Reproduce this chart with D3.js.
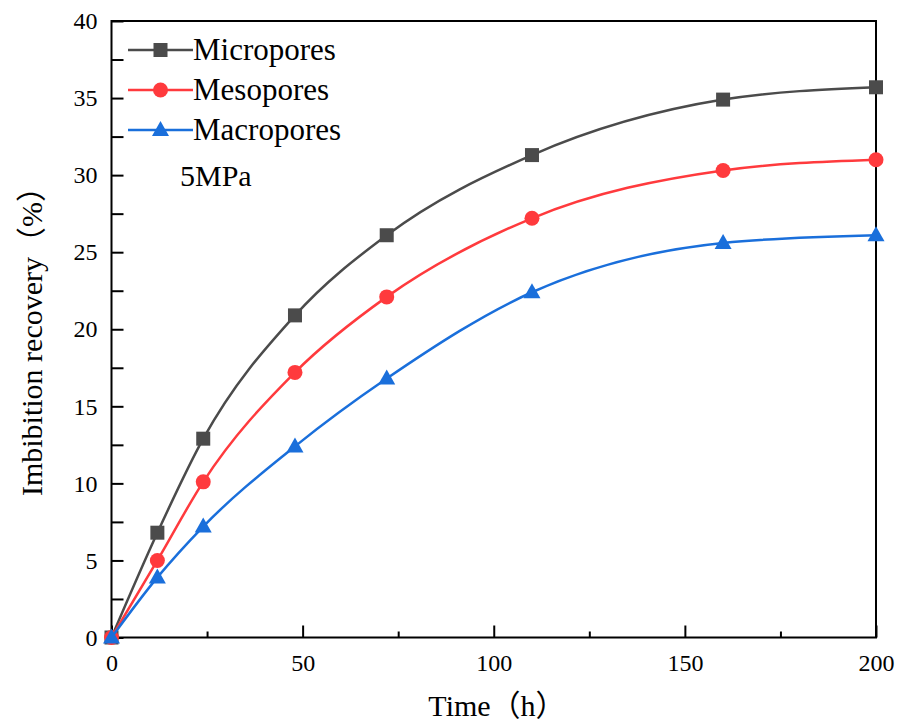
<!DOCTYPE html>
<html>
<head>
<meta charset="utf-8">
<script src="https://cdn.jsdelivr.net/npm/d3@7"></script>
<style>
  body { margin: 0; background: #fff; }
</style>
</head>
<body>
<svg id="chart" width="902" height="725"></svg>
<script>
const hours      = [0, 12, 24, 48, 72, 110, 160, 200]
const micropores = [0, 6.8, 12.9, 20.9, 26.1, 31.3, 34.9, 35.7]
const mesopores  = [0, 5.0, 10.1, 17.2, 22.1, 27.2, 30.3, 31.0]
const macropores = [0, 3.9, 7.2, 12.4, 16.8, 22.4, 25.6, 26.1]
const seriesNames = ['Micropores', 'Mesopores', 'Macropores']
const xTicks = [0, 50, 100, 150, 200]
const yTicks = [0, 5, 10, 15, 20, 25, 30, 35, 40]

const plotLeft = 111.5, plotRight = 876, plotTop = 21, plotBottom = 637.5
const serif = "'Liberation Serif', 'Noto Sans CJK SC', serif"

const svg = d3.select('#chart')

const x = d3.scaleLinear().domain([0, 200]).range([plotLeft, plotRight])
const y = d3.scaleLinear().domain([0, 40]).range([plotBottom, plotTop])

const series = [
  { name: seriesNames[0], values: micropores, color: '#4b4b4b', marker: 'square' },
  { name: seriesNames[1], values: mesopores,  color: '#ff3a3d', marker: 'circle' },
  { name: seriesNames[2], values: macropores, color: '#1a6fdb', marker: 'triangle' }
]

// frame
svg.append('rect')
  .attr('x', plotLeft).attr('y', plotTop)
  .attr('width', plotRight - plotLeft).attr('height', plotBottom - plotTop)
  .attr('fill', 'none').attr('stroke', '#000').attr('stroke-width', 2)

// x axis, ticks inside
const xAxis = svg.append('g').attr('transform', `translate(0,${plotBottom})`)
xAxis.call(d3.axisBottom(x).tickValues(xTicks).tickSizeInner(-12).tickSizeOuter(0).tickFormat(d3.format('d')))
xAxis.append('g').call(d3.axisBottom(x).tickValues([25, 75, 125, 175]).tickSizeInner(-6).tickSizeOuter(0).tickFormat(''))
xAxis.selectAll('.domain').remove()
xAxis.selectAll('line').attr('stroke', '#000').attr('stroke-width', 2)
xAxis.selectAll('text').attr('y', 16).attr('dy', '0.71em').attr('fill', '#000')
  .style('font-family', serif).style('font-size', '24px')

// y axis, ticks inside
const yAxis = svg.append('g').attr('transform', `translate(${plotLeft},0)`)
yAxis.call(d3.axisLeft(y).tickValues(yTicks).tickSizeInner(-12).tickSizeOuter(0).tickFormat(d3.format('d')))
yAxis.append('g').call(d3.axisLeft(y).tickValues(d3.range(2.5, 40, 5)).tickSizeInner(-12).tickSizeOuter(0).tickFormat(''))
yAxis.selectAll('.domain').remove()
yAxis.selectAll('line').attr('stroke', '#000').attr('stroke-width', 2)
yAxis.selectAll('text').attr('x', -14).attr('fill', '#000')
  .style('font-family', serif).style('font-size', '24px')

// axis titles
svg.append('text')
  .attr('x', 497).attr('y', 716)
  .attr('text-anchor', 'middle')
  .style('font-family', serif).style('font-size', '30px')
  .text('Time（h）')

svg.append('text')
  .attr('transform', 'translate(42,334) rotate(-90)')
  .attr('text-anchor', 'middle')
  .style('font-family', serif).style('font-size', '30px')
  .text('Imbibition recovery（%）')

const line = d3.line()
  .x((d, i) => x(hours[i]))
  .y(d => y(d))
  .curve(d3.curveMonotoneX)

function drawMarker(g, type, cx, cy, color)
{
  if(type === 'square')
  {
    g.append('rect').attr('x', cx - 7).attr('y', cy - 7).attr('width', 14).attr('height', 14).attr('fill', color)
  }
  else if(type === 'circle')
  {
    g.append('circle').attr('cx', cx).attr('cy', cy).attr('r', 7.5).attr('fill', color)
  }
  else
  {
    g.append('path').attr('d', `M${cx},${cy - 9}L${cx + 8.5},${cy + 6}L${cx - 8.5},${cy + 6}Z`).attr('fill', color)
  }
}

const plot = svg.append('g')
series.forEach(s =>
{
  plot.append('path')
    .attr('d', line(s.values))
    .attr('fill', 'none')
    .attr('stroke', s.color)
    .attr('stroke-width', 2.5)
  s.values.forEach((v, i) => drawMarker(plot, s.marker, x(hours[i]), y(v), s.color))
})

// legend
const legend = svg.append('g')
series.forEach((s, i) =>
{
  const ly = 50 + i * 40
  legend.append('line')
    .attr('x1', 128).attr('x2', 193).attr('y1', ly).attr('y2', ly)
    .attr('stroke', s.color).attr('stroke-width', 2.5)
  drawMarker(legend, s.marker, 160.5, ly, s.color)
  legend.append('text')
    .attr('x', 193).attr('y', ly + 10)
    .style('font-family', serif).style('font-size', '31px')
    .text(s.name)
})

svg.append('text')
  .attr('x', 180).attr('y', 186)
  .style('font-family', serif).style('font-size', '30px')
  .text('5MPa')
</script>
</body>
</html>
